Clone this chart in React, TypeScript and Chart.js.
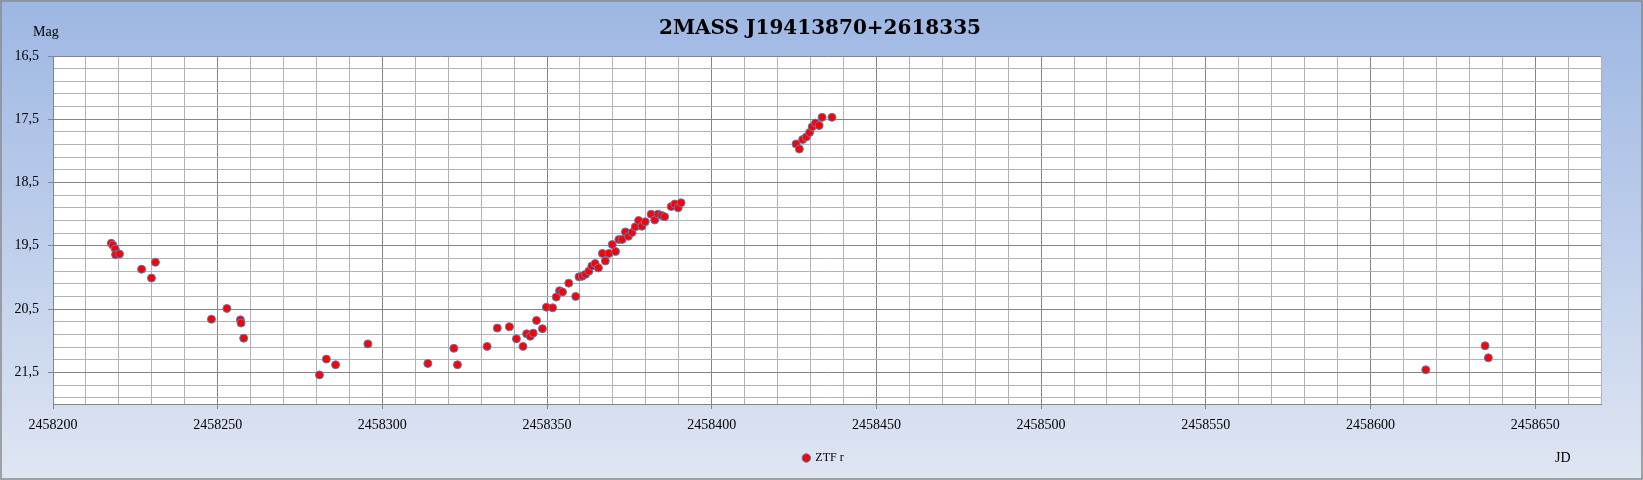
import React, { useEffect, useRef } from "react";
import { Chart, registerables } from "chart.js";

Chart.register(...registerables);

const TITLE = "2MASS J19413870+2618335";
const SERIES_NAME = "ZTF r";
const Y_TITLE = "Mag";
const X_TITLE = "JD";

const jd: number[] = [
  2458217.7, 2458218.2, 2458218.9, 2458219.0, 2458220.2, 2458226.9, 2458231.1, 2458229.9,
  2458248.1, 2458252.8, 2458256.9, 2458257.1, 2458257.9,
  2458280.9, 2458283.0, 2458285.8, 2458295.6, 2458313.8, 2458321.7, 2458322.8,
  2458331.8, 2458334.9, 2458338.6, 2458340.7, 2458342.7, 2458343.8, 2458344.9, 2458345.8,
  2458346.8, 2458348.6, 2458349.8, 2458351.7, 2458352.8, 2458353.8, 2458354.7, 2458356.6,
  2458358.7, 2458359.7, 2458360.7, 2458361.7, 2458362.7, 2458363.6, 2458364.6, 2458365.6,
  2458366.8, 2458367.7, 2458368.8, 2458369.8, 2458370.8, 2458371.8, 2458372.8, 2458373.8,
  2458374.7, 2458375.8, 2458376.8, 2458377.8, 2458378.8, 2458379.8, 2458381.6, 2458382.7,
  2458383.7, 2458384.8, 2458385.7, 2458387.7, 2458388.8, 2458389.8, 2458390.7,
  2458425.6, 2458426.6, 2458427.6, 2458428.7, 2458429.7, 2458430.5, 2458431.5, 2458432.6,
  2458433.5, 2458436.5,
  2458616.8, 2458634.8, 2458635.8,
];

const mag: number[] = [
  19.46, 19.49, 19.55, 19.64, 19.63, 19.87, 19.76, 20.01,
  20.66, 20.49, 20.67, 20.72, 20.96,
  21.54, 21.29, 21.38, 21.05, 21.36, 21.12, 21.38,
  21.09, 20.8, 20.78, 20.97, 21.09, 20.89, 20.93, 20.88,
  20.68, 20.81, 20.47, 20.48, 20.31, 20.21, 20.23, 20.09,
  20.3, 19.99, 19.98, 19.95, 19.9, 19.82, 19.78, 19.85,
  19.62, 19.74, 19.62, 19.48, 19.59, 19.4, 19.4, 19.28,
  19.35, 19.29, 19.2, 19.1, 19.19, 19.12, 19.0, 19.09,
  19.0, 19.02, 19.04, 18.88, 18.84, 18.9, 18.82,
  17.89, 17.97, 17.82, 17.78, 17.71, 17.62, 17.56, 17.6,
  17.47, 17.47,
  21.46, 21.08, 21.27,
];

const X_MIN = 2458200;
const X_MAX = 2458670;
const X_MINOR = 10;
const X_MAJOR = 50;
const Y_MIN = 16.5;
const Y_MAX = 22.0;
const Y_MINOR = 0.2;
const Y_MAJOR = 1.0;

const SERIF = "'Liberation Serif', 'Times New Roman', serif";
const MINOR_GRID = "#b2b2b2";
const MAJOR_GRID = "#858585";

const isYMajor = (v: number) => {
  const r = (v - Y_MIN) / Y_MAJOR;
  return Math.abs(r - Math.round(r)) < 1e-6 && v < Y_MAX - 1e-6;
};
const isXMajor = (v: number) => Math.abs(v / X_MAJOR - Math.round(v / X_MAJOR)) < 1e-6;

const decoPlugin = {
  id: "deco",
  afterLayout(chart: any) {
    if (chart.legend) {
      chart.legend.left += 46;
    }
  },
  beforeDraw(chart: any) {
    const { ctx, width, height, chartArea } = chart;
    ctx.save();
    const g = ctx.createLinearGradient(0, 0, 0, height);
    g.addColorStop(0, "#9db7e3");
    g.addColorStop(1, "#dfe6f3");
    ctx.fillStyle = g;
    ctx.fillRect(0, 0, width, height);
    ctx.fillStyle = "#ffffff";
    ctx.fillRect(chartArea.left, chartArea.top, chartArea.right - chartArea.left, chartArea.bottom - chartArea.top);
    ctx.strokeStyle = "#8a8a8a";
    ctx.lineWidth = 1.5;
    ctx.strokeRect(1, 1, width - 2, height - 2);
    ctx.restore();
  },
  afterDraw(chart: any) {
    const { ctx } = chart;
    ctx.save();
    ctx.fillStyle = "#000000";
    ctx.textAlign = "center";
    ctx.textBaseline = "middle";
    ctx.font = "bold 20px 'DejaVu Serif', serif";
    ctx.fillText(TITLE, 820, 29);
    ctx.font = "14px " + SERIF;
    ctx.textAlign = "left";
    ctx.fillText(Y_TITLE, 33, 32);
    ctx.fillText(X_TITLE, 1555, 458);
    ctx.restore();
  },
};

export default function App() {
  const ref = useRef<HTMLCanvasElement | null>(null);

  useEffect(() => {
    document.body.style.margin = "0";
    const canvas = ref.current;
    if (!canvas) return;
    const chart = new Chart(canvas, {
      type: "scatter",
      data: {
        datasets: [
          {
            label: SERIES_NAME,
            data: jd.map((x, i) => ({ x, y: mag[i] })),
            backgroundColor: "#ff0000",
            borderColor: "#4f81bd",
            borderWidth: 1,
            pointRadius: 4,
            pointStyle: "circle",
          },
        ],
      },
      options: {
        responsive: false,
        animation: false,
        devicePixelRatio: 1,
        layout: { padding: { left: 0, top: 56, right: 42, bottom: 6 } },
        plugins: {
          title: { display: false },
          tooltip: { enabled: false },
          legend: {
            display: true,
            position: "bottom",
            labels: {
              usePointStyle: true,
              boxWidth: 6,
              boxHeight: 6,
              padding: 10,
              color: "#000000",
              font: { family: SERIF, size: 12 },
            },
          },
        },
        scales: {
          x: {
            type: "linear",
            min: X_MIN,
            max: X_MAX,
            afterBuildTicks: (scale: any) => {
              const t: any[] = [];
              for (let v = X_MIN; v <= X_MAX + 1e-6; v += X_MINOR) t.push({ value: v });
              scale.ticks = t;
            },
            afterFit: (scale: any) => {
              scale.height = 38;
            },
            ticks: {
              autoSkip: false,
              maxRotation: 0,
              padding: 8,
              color: "#000000",
              font: { family: SERIF, size: 14 },
              callback: (v: any) => (isXMajor(Number(v)) ? String(Math.round(Number(v))) : ""),
            },
            grid: {
              color: (c: any) => (isXMajor(c.tick?.value ?? 0) ? MAJOR_GRID : MINOR_GRID),
              tickColor: (c: any) => (isXMajor(c.tick?.value ?? 0) ? MAJOR_GRID : "rgba(0,0,0,0)"),
              tickLength: 5,
              lineWidth: 1,
            },
            border: { color: MAJOR_GRID, width: 1 },
          },
          y: {
            type: "linear",
            reverse: true,
            min: Y_MIN,
            max: Y_MAX,
            afterBuildTicks: (scale: any) => {
              const t: any[] = [];
              for (let k = 0; Y_MIN + k * Y_MINOR < Y_MAX - 1e-6; k++) {
                t.push({ value: Math.round((Y_MIN + k * Y_MINOR) * 10) / 10 });
              }
              t.push({ value: Y_MAX });
              scale.ticks = t;
            },
            afterFit: (scale: any) => {
              scale.width = 53;
            },
            ticks: {
              autoSkip: false,
              padding: 9,
              color: "#000000",
              font: { family: SERIF, size: 14 },
              callback: (v: any) => (isYMajor(Number(v)) ? Number(v).toFixed(1).replace(".", ",") : ""),
            },
            grid: {
              color: (c: any) => (isYMajor(c.tick?.value ?? 0) ? MAJOR_GRID : MINOR_GRID),
              tickColor: (c: any) => (isYMajor(c.tick?.value ?? 0) ? MAJOR_GRID : "rgba(0,0,0,0)"),
              tickLength: 5,
              lineWidth: 1,
            },
            border: { color: MAJOR_GRID, width: 1 },
          },
        },
      },
      plugins: [decoPlugin],
    } as any);
    return () => chart.destroy();
  }, []);

  return (
    <div style={{ width: 1643, height: 480 }}>
      <canvas ref={ref} width={1643} height={480} style={{ display: "block" }} />
    </div>
  );
}
